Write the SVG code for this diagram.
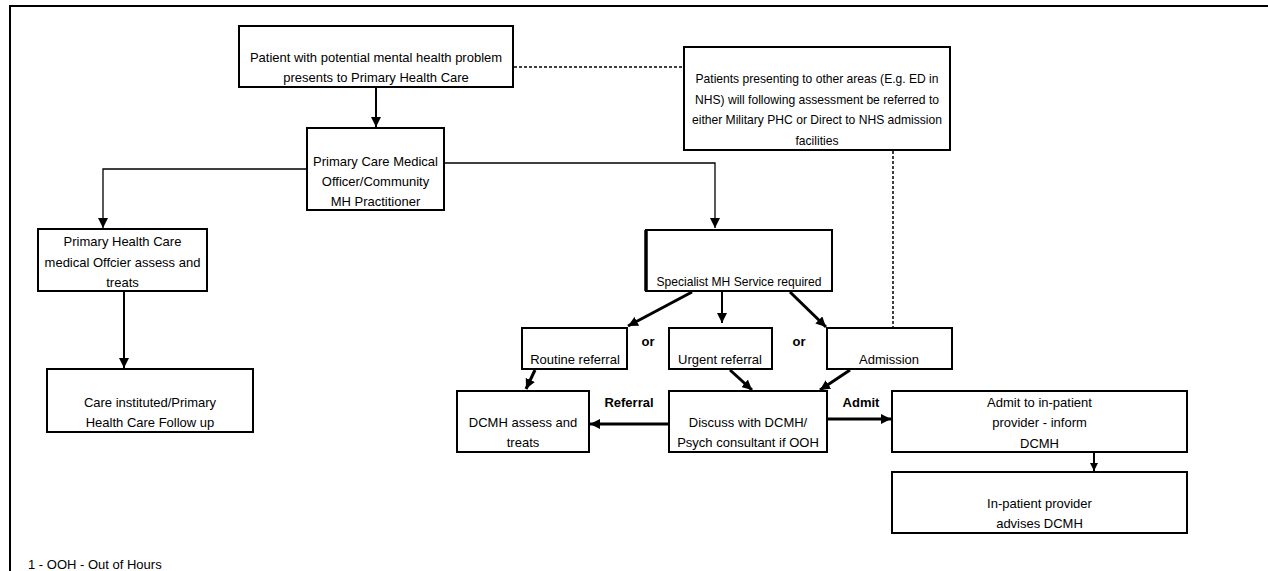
<svg xmlns="http://www.w3.org/2000/svg" width="1268" height="571" viewBox="0 0 1268 571">
<defs>
<style>
.box{fill:#fff;stroke:#000;stroke-width:2}
.t{font-family:"Liberation Sans",Arial,sans-serif;font-size:13px;fill:#000;text-anchor:middle}
.b{font-weight:bold}
.c{fill:none;stroke:#000;stroke-width:2}
.thin{fill:none;stroke:#000;stroke-width:1.3}
.thick{fill:none;stroke:#000;stroke-width:3}
.dash{fill:none;stroke:#000;stroke-width:1.5;stroke-dasharray:3 2}
</style>
<marker id="ah" viewBox="0 0 10 10" refX="10" refY="5" markerWidth="10" markerHeight="10" markerUnits="userSpaceOnUse" orient="auto">
<path d="M0,0 L10,5 L0,10 Z" fill="#000"/>
</marker>
<marker id="ahs" viewBox="0 0 10 10" refX="10" refY="5" markerWidth="8" markerHeight="8" markerUnits="userSpaceOnUse" orient="auto">
<path d="M0,0 L10,5 L0,10 Z" fill="#000"/>
</marker>
</defs>
<rect width="1268" height="571" fill="#fff"/>
<path d="M10,571 V6 H1268" fill="none" stroke="#000" stroke-width="2"/>

<g id="connectors">
<path class="c" d="M376,88 V127" marker-end="url(#ah)"/>
<path class="thin" d="M306,169 H103 V228" marker-end="url(#ah)"/>
<path class="thin" d="M445,163 H715 V228" marker-end="url(#ah)"/>
<path class="dash" d="M514,67 H683"/>
<path class="dash" d="M893,151 V327"/>
<path class="c" d="M124,292 V368" marker-end="url(#ah)"/>
<path class="thick" d="M692,292 L628,326" marker-end="url(#ah)"/>
<path class="c" d="M722,292 V323" marker-end="url(#ah)"/>
<path class="thick" d="M790,292 L826,327" marker-end="url(#ah)"/>
<path class="thick" d="M535,370 L526,389" marker-end="url(#ah)"/>
<path class="thick" d="M730,370 L752,390" marker-end="url(#ah)"/>
<path class="thick" d="M850,370 L820,390" marker-end="url(#ah)"/>
<path class="thick" d="M668,424 H590" marker-end="url(#ah)"/>
<path class="thick" d="M828,419 H891" marker-end="url(#ah)"/>
<path class="c" d="M1094,453 V471" marker-end="url(#ahs)"/>
<text class="t b" x="648" y="346">or</text>
<text class="t b" x="799" y="346">or</text>
<text class="t b" x="629" y="407">Referral</text>
<text class="t b" x="861" y="407">Admit</text>
</g>

<g id="n1">
<rect class="box" x="239" y="26" width="274" height="61"/>
<text class="t" x="376" y="62">Patient with potential mental health problem</text>
<text class="t" x="376" y="82">presents to Primary Health Care</text>
</g>
<g id="n2">
<rect class="box" x="307" y="128" width="137" height="82"/>
<text class="t" x="375.5" y="166">Primary Care Medical</text>
<text class="t" x="375.5" y="186">Officer/Community</text>
<text class="t" x="375.5" y="206">MH Practitioner</text>
</g>
<g id="n3">
<rect class="box" x="38" y="229" width="169" height="62"/>
<text class="t" x="122.5" y="246">Primary Health Care</text>
<text class="t" x="122.5" y="267">medical Offcier assess and</text>
<text class="t" x="122.5" y="287">treats</text>
</g>
<g id="n4">
<rect class="box" x="47" y="369" width="206" height="63"/>
<text class="t" x="150" y="407">Care instituted/Primary</text>
<text class="t" x="150" y="427">Health Care Follow up</text>
</g>
<g id="n5">
<rect class="box" x="684" y="47" width="266" height="103"/>
<text class="t" x="817" y="83" textLength="243" lengthAdjust="spacingAndGlyphs">Patients presenting to other areas (E.g. ED in</text>
<text class="t" x="817" y="104" textLength="244" lengthAdjust="spacingAndGlyphs">NHS) will following assessment be referred to</text>
<text class="t" x="817" y="124" textLength="250" lengthAdjust="spacingAndGlyphs">either Military PHC or Direct to NHS admission</text>
<text class="t" x="817" y="145" textLength="43" lengthAdjust="spacingAndGlyphs">facilities</text>
</g>
<g id="n6">
<rect class="box" x="646" y="230" width="186" height="61"/>
<path d="M646,230 V291" stroke="#000" stroke-width="3.5"/>
<text class="t" x="739" y="286" textLength="165" lengthAdjust="spacingAndGlyphs">Specialist MH Service required</text>
</g>
<g id="n7">
<rect class="box" x="522" y="328" width="105" height="41"/>
<text class="t" x="575" y="364">Routine referral</text>
</g>
<g id="n8">
<rect class="box" x="669" y="328" width="103" height="41"/>
<text class="t" x="720" y="364">Urgent referral</text>
</g>
<g id="n9">
<rect class="box" x="827" y="328" width="125" height="41"/>
<text class="t" x="889" y="364">Admission</text>
</g>
<g id="n10">
<rect class="box" x="457" y="391" width="132" height="61"/>
<text class="t" x="523" y="427">DCMH assess and</text>
<text class="t" x="523" y="447">treats</text>
</g>
<g id="n11">
<rect class="box" x="669" y="391" width="158" height="61"/>
<text class="t" x="748" y="427">Discuss with DCMH/</text>
<text class="t" x="748" y="447">Psych consultant if OOH</text>
</g>
<g id="n12">
<rect class="box" x="892" y="391" width="295" height="61"/>
<text class="t" x="1039.5" y="407">Admit to in-patient</text>
<text class="t" x="1039.5" y="427">provider - inform</text>
<text class="t" x="1039.5" y="448">DCMH</text>
</g>
<g id="n13">
<rect class="box" x="892" y="472" width="295" height="61"/>
<text class="t" x="1039.5" y="508">In-patient provider</text>
<text class="t" x="1039.5" y="528">advises DCMH</text>
</g>
<text class="t" x="28" y="569" style="text-anchor:start">1 - OOH - Out of Hours</text>
</svg>
